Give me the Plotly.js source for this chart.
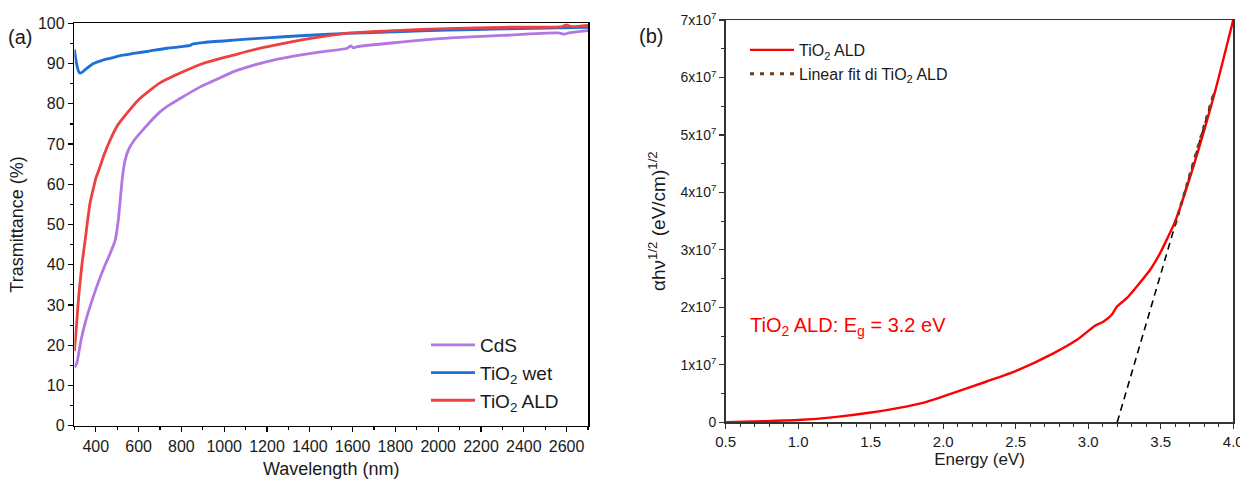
<!DOCTYPE html>
<html>
<head>
<meta charset="utf-8">
<script src="https://cdn.plot.ly/plotly-3.0.1.min.js"></script>
<style>html,body{margin:0;padding:0;background:#fff;}#chart{width:1240px;height:479px;}</style>
</head>
<body>
<div id="chart"></div>
<script>
// ---- Panel (a): transmittance ----
const cdsWavelength = [300, 311, 330, 350, 373, 404, 440, 467, 490, 505, 514, 525, 537, 552, 580, 607, 650, 700, 732, 800, 888, 950, 1044, 1100, 1200, 1300, 1450, 1575, 1590, 1605, 1622, 1800, 2044, 2300, 2560, 2590, 2610, 2700];
const cdsTrans = [14.5, 15.5, 21, 25.5, 29.6, 34.5, 39.5, 42.8, 46, 51, 56, 62, 66, 68.5, 71, 72.7, 75.3, 78, 79.3, 81.5, 84.2, 85.7, 88, 89, 90.5, 91.6, 92.9, 93.8, 94.4, 93.9, 94.2, 95.2, 96.3, 97.0, 97.6, 97.3, 97.6, 98.2];

const wetWavelength = [300, 310, 320, 326, 335, 358, 389, 430, 467, 520, 576, 650, 732, 800, 841, 850, 900, 1044, 1200, 1357, 1575, 1800, 2044, 2300, 2700];
const wetTrans = [93.5, 90, 88, 87.6, 87.8, 88.8, 90, 90.8, 91.3, 92.0, 92.5, 93.1, 93.8, 94.2, 94.5, 94.8, 95.2, 95.8, 96.4, 96.9, 97.5, 97.9, 98.3, 98.6, 99.0];

const aldWavelength = [300, 310, 320, 334, 350, 373, 396, 400, 420, 440, 467, 500, 545, 600, 654, 700, 810, 900, 1044, 1150, 1278, 1450, 1591, 1800, 2044, 2300, 2580, 2600, 2620, 2700];
const aldTrans = [18.5, 25, 32, 39.5, 46, 55.3, 60.6, 61.5, 64.4, 67.5, 71, 74.5, 77.6, 81, 83.4, 85.2, 88, 90, 92.1, 93.6, 95, 96.6, 97.6, 98.2, 98.7, 99.0, 99.2, 99.6, 99.2, 99.5];

// ---- Panel (b): Tauc plot ----
const energy = [0.5, 0.75, 1.0, 1.25, 1.5, 1.845, 2.0, 2.3, 2.507, 2.76, 2.92, 3.047, 3.104, 3.162, 3.197, 3.266, 3.334, 3.426, 3.495, 3.54, 3.6, 3.725, 3.874, 4.0];
const tauc = [0.0, 0.02e7, 0.04e7, 0.09e7, 0.17e7, 0.33e7, 0.45e7, 0.71e7, 0.90e7, 1.20e7, 1.43e7, 1.68e7, 1.75e7, 1.87e7, 2.01e7, 2.16e7, 2.36e7, 2.65e7, 2.94e7, 3.17e7, 3.5e7, 4.45e7, 5.75e7, 7.0e7];
const fitEnergy = [3.6, 3.87];
const fitTauc = [3.44e7, 5.76e7];
const extEnergy = [3.2, 3.87];
const extTauc = [0, 5.76e7];

const yTickVals = [0, 1e7, 2e7, 3e7, 4e7, 5e7, 6e7, 7e7];
const yTickText = ['0', '1x10<sup>7</sup>', '2x10<sup>7</sup>', '3x10<sup>7</sup>', '4x10<sup>7</sup>', '5x10<sup>7</sup>', '6x10<sup>7</sup>', '7x10<sup>7</sup>'];
const yMinorVals = [0.5e7, 1.5e7, 2.5e7, 3.5e7, 4.5e7, 5.5e7, 6.5e7];

const FONT = 'Arial, "Liberation Sans", sans-serif';
const TXT = '#1a1a1a';

const traces = [
  {x: cdsWavelength, y: cdsTrans, name: 'CdS', mode: 'lines', line: {color: '#b277e0', width: 2.8, shape: 'spline', smoothing: 0.6}, xaxis: 'x', yaxis: 'y', legend: 'legend'},
  {x: wetWavelength, y: wetTrans, name: 'TiO<sub>2</sub> wet', mode: 'lines', line: {color: '#1f6fd8', width: 2.8, shape: 'spline', smoothing: 0.6}, xaxis: 'x', yaxis: 'y', legend: 'legend'},
  {x: aldWavelength, y: aldTrans, name: 'TiO<sub>2</sub> ALD', mode: 'lines', line: {color: '#ee4040', width: 2.8, shape: 'spline', smoothing: 0.6}, xaxis: 'x', yaxis: 'y', legend: 'legend'},
  {x: extEnergy, y: extTauc, name: 'extrapolation', mode: 'lines', line: {color: '#000', width: 1.6, dash: '7px,5px'}, xaxis: 'x2', yaxis: 'y2', showlegend: false},
  {x: energy, y: tauc, name: 'TiO<sub>2</sub> ALD', mode: 'lines', line: {color: '#ff0000', width: 2.4, shape: 'spline', smoothing: 0.6}, xaxis: 'x2', yaxis: 'y2', legend: 'legend2'},
  {x: fitEnergy, y: fitTauc, name: 'Linear fit di TiO<sub>2</sub> ALD', mode: 'lines', line: {color: '#6b4020', width: 3, dash: '4px,6px'}, xaxis: 'x2', yaxis: 'y2', legend: 'legend2'}
];

const layout = {
  width: 1240, height: 479,
  margin: {l: 0, r: 0, t: 0, b: 0},
  paper_bgcolor: '#fff', plot_bgcolor: '#fff',
  font: {family: FONT, color: TXT},
  showlegend: true,
  xaxis: {
    domain: [74.4/1240, 588/1240], anchor: 'y',
    range: [300, 2700], dtick: 200, tick0: 0,
    showgrid: false, zeroline: false,
    showline: true, mirror: true, linecolor: '#000', linewidth: 1.6,
    ticks: 'outside', ticklen: 5, tickwidth: 1.3, tickcolor: '#000',
    minor: {ticks: 'outside', ticklen: 3, dtick: 100, tickcolor: '#000', tickwidth: 1.2},
    tickfont: {size: 16, family: FONT, color: TXT},
    title: {text: 'Wavelength (nm)', font: {size: 18, family: FONT, color: TXT}, standoff: 13},
    automargin: false
  },
  yaxis: {
    domain: [1 - 425.7/479, 1 - 23.3/479], anchor: 'x',
    range: [0, 100], dtick: 10,
    showgrid: false, zeroline: false,
    showline: true, mirror: true, linecolor: '#000', linewidth: 1.6,
    ticks: 'outside', ticklen: 5, tickwidth: 1.3, tickcolor: '#000',
    minor: {ticks: 'outside', ticklen: 3, dtick: 5, tickcolor: '#000', tickwidth: 1.2},
    tickfont: {size: 16, family: FONT, color: TXT},
    title: {text: 'Trasmittance (%)', font: {size: 18, family: FONT, color: TXT}, standoff: 9},
    automargin: false
  },
  xaxis2: {
    domain: [725.7/1240, 1233.3/1240], anchor: 'y2',
    range: [0.5, 4.0005], dtick: 0.5, tick0: 0, tickformat: '.1f',
    ticklabeloverflow: 'allow',
    showgrid: false, zeroline: false,
    showline: true, mirror: true, linecolor: '#333', linewidth: 1.5,
    ticks: 'outside', ticklen: 5, tickwidth: 1.2, tickcolor: '#333',
    minor: {ticks: 'outside', ticklen: 3, dtick: 0.1, tickcolor: '#333', tickwidth: 1},
    tickfont: {size: 15, family: FONT, color: TXT},
    title: {text: 'Energy (eV)', font: {size: 17, family: FONT, color: TXT}, standoff: 4},
    automargin: false
  },
  yaxis2: {
    domain: [1 - 422.3/479, 1 - 20/479], anchor: 'x2',
    range: [0, 7e7], tickvals: yTickVals, ticktext: yTickText,
    showgrid: false, zeroline: false,
    showline: true, mirror: true, linecolor: '#333', linewidth: 1.5,
    ticks: 'outside', ticklen: 5, tickwidth: 1.2, tickcolor: '#333',
    minor: {ticks: 'outside', ticklen: 3, tickvals: yMinorVals, tickcolor: '#333', tickwidth: 1},
    tickfont: {size: 14, family: FONT, color: TXT},
    title: {text: '\u03b1h\u03bd<sup>1/2</sup> (eV/cm)<sup>1/2</sup>', font: {size: 19, family: FONT, color: TXT}, standoff: 10},
    automargin: false
  },
  legend: {
    x: 426/1240, y: 1 - 326/479, xanchor: 'left', yanchor: 'top',
    bgcolor: 'rgba(0,0,0,0)', borderwidth: 0, itemwidth: 44,
    font: {size: 19, family: FONT, color: TXT},
    tracegroupgap: 0
  },
  legend2: {
    x: 745/1240, y: 1 - 33/479, xanchor: 'left', yanchor: 'top',
    bgcolor: 'rgba(0,0,0,0)', borderwidth: 0, itemwidth: 44,
    font: {size: 16, family: FONT, color: TXT},
    tracegroupgap: 0
  },
  annotations: [
    {text: '(a)', xref: 'paper', yref: 'paper', x: 20/1240, y: 1 - 37/479, xanchor: 'center', yanchor: 'middle', showarrow: false, font: {size: 20, family: FONT, color: TXT}},
    {text: '(b)', xref: 'paper', yref: 'paper', x: 651/1240, y: 1 - 36/479, xanchor: 'center', yanchor: 'middle', showarrow: false, font: {size: 20, family: FONT, color: TXT}},
    {text: 'TiO<sub>2</sub> ALD: E<sub>g</sub> = 3.2 eV', xref: 'paper', yref: 'paper', x: 748/1240, y: 1 - 326/479, xanchor: 'left', yanchor: 'middle', showarrow: false, font: {size: 20, family: FONT, color: '#ff0000'}}
  ]
};

Plotly.newPlot('chart', traces, layout, {staticPlot: true, displayModeBar: false});
</script>
</body>
</html>
